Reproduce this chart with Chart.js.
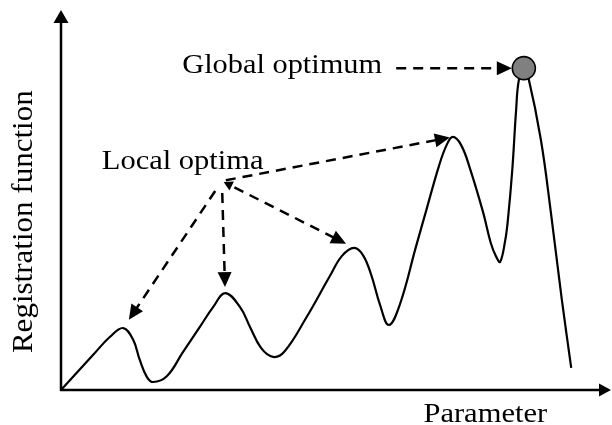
<!DOCTYPE html>
<html>
<head>
<meta charset="utf-8">
<script src="https://cdn.jsdelivr.net/npm/chart.js@4"></script>
<style>
  html, body { margin: 0; padding: 0; background: #fff; }
  #wrap { width: 612px; height: 425px; }
</style>
</head>
<body>
<div id="wrap"><canvas id="chart" width="612" height="425"></canvas></div>
<script>
(function () {
  "use strict";

  // curve: parameter (x) and registration value (y)
  var paramValues = [0, 5.8, 8.9, 11.3, 13.1, 14.3, 15.6, 16.7, 19.2, 22.1,
    25.2, 27.6, 29.8, 32.5, 34.3, 36.3, 38.5, 40.6, 44.5, 48.8,
    51.0, 53.2, 54.8, 56.3, 57.9, 59.5, 61.5, 64.4, 66.2, 68.6,
    70.0, 71.1, 72.6, 74.2, 76.6, 78.0, 79.0, 79.7, 80.6, 81.1,
    81.9, 82.6, 83.1, 84.0, 84.8, 87.1, 88.9, 90.9, 92.6];
  var registrationValues = [0, 9.2, 14.0, 16.3, 13.2, 7.9, 3.4, 2.1, 3.6, 9.9,
    16.6, 21.8, 25.5, 21.8, 16.6, 11.1, 8.7, 10.2, 19.0, 30.0,
    35.3, 37.4, 35.5, 30.3, 22.4, 17.1, 22.5, 37.6, 46.8, 59.0,
    64.5, 66.6, 64.5, 58.4, 46.8, 38.7, 35.0, 33.7, 39.2, 44.7,
    57.9, 73.7, 81.6, 84.7, 82.4, 65.8, 46.8, 23.7, 5.8];

  var localPeaks = [3, 12, 21, 31]; // indices of the local optima
  var globalPeak = 43;

  var xTitle = "Parameter";
  var yTitle = "Registration function";
  var globalText = "Global optimum";
  var localText = "Local optima";

  var SERIF = '"Liberation Serif", "Times New Roman", serif';

  var curve = paramValues.map(function (x, i) {
    return { x: x, y: registrationValues[i] };
  });

  function arrowHead(ctx, tipX, tipY, fromX, fromY, len, half) {
    var a = Math.atan2(tipY - fromY, tipX - fromX);
    ctx.save();
    ctx.translate(tipX, tipY);
    ctx.rotate(a);
    ctx.beginPath();
    ctx.moveTo(0, 0);
    ctx.lineTo(-len, -half);
    ctx.lineTo(-len, half);
    ctx.closePath();
    ctx.fill();
    ctx.restore();
  }

  // dashed shaft from (x1,y1) to a filled head at (x2,y2)
  function dashedArrow(ctx, x1, y1, x2, y2) {
    var dx = x2 - x1, dy = y2 - y1, d = Math.hypot(dx, dy);
    var ux = dx / d, uy = dy / d;
    ctx.save();
    ctx.setLineDash([10, 7]);
    ctx.lineWidth = 2.5;
    ctx.beginPath();
    ctx.moveTo(x1, y1);
    ctx.lineTo(x2 - ux * 13, y2 - uy * 13);
    ctx.stroke();
    ctx.restore();
    arrowHead(ctx, x2, y2, x1, y1, 15, 7);
  }

  function stretchedText(ctx, text, x, y, size, k, angle) {
    ctx.save();
    ctx.font = size + "px " + SERIF;
    ctx.translate(x, y);
    if (angle) ctx.rotate(angle);
    ctx.scale(k, 1);
    ctx.fillText(text, 0, 0);
    ctx.restore();
  }

  var axesPlugin = {
    id: "arrowAxes",
    beforeDatasetsDraw: function (chart) {
      var ctx = chart.ctx, area = chart.chartArea;
      var xs = chart.scales.x, ys = chart.scales.y;
      var x0 = xs.getPixelForValue(0), y0 = ys.getPixelForValue(0);
      ctx.save();
      ctx.strokeStyle = "#000";
      ctx.fillStyle = "#000";
      ctx.lineWidth = 2.5;
      ctx.beginPath();
      ctx.moveTo(x0, y0 + 1);
      ctx.lineTo(x0, area.top + 12);
      ctx.moveTo(x0 - 1, y0);
      ctx.lineTo(area.right - 11, y0);
      ctx.stroke();
      arrowHead(ctx, x0, area.top, x0, y0, 13, 7.5);
      arrowHead(ctx, area.right - 1, y0, x0, y0, 12, 6.5);

      // axis titles
      ctx.textAlign = "center";
      ctx.textBaseline = "alphabetic";
      stretchedText(ctx, xTitle, xs.getPixelForValue(77), area.bottom + 32, 27, 1.13);
      stretchedText(ctx, yTitle, area.left - 29, ys.getPixelForValue(44.3), 29, 1.07, -Math.PI / 2);
      ctx.restore();
    }
  };

  var notesPlugin = {
    id: "optimaNotes",
    afterDatasetsDraw: function (chart, args, opts) {
      var ctx = chart.ctx;
      var xs = chart.scales.x, ys = chart.scales.y;
      ctx.save();
      ctx.fillStyle = "#000";
      ctx.strokeStyle = "#000";
      ctx.textAlign = "left";
      ctx.textBaseline = "alphabetic";

      // local optima label and its four arrows
      stretchedText(ctx, localText, xs.getPixelForValue(opts.localLabel.x),
        ys.getPixelForValue(opts.localLabel.y), 27, 1.13);
      var ox = xs.getPixelForValue(opts.localOrigin.x);
      var oy = ys.getPixelForValue(opts.localOrigin.y);
      localPeaks.forEach(function (idx, n) {
        var px = xs.getPixelForValue(paramValues[idx]);
        var py = ys.getPixelForValue(registrationValues[idx]);
        var dx = px - ox, dy = py - oy, d = Math.hypot(dx, dy);
        var ux = dx / d, uy = dy / d;
        var s = opts.startGaps[n], g = opts.tipGaps[n];
        dashedArrow(ctx, ox + ux * s, oy + uy * s, px - ux * g, py - uy * g);
        if (n === 2) arrowHead(ctx, ox + ux * 2, oy + uy * 2, px, py, 9, 5);
      });

      // global optimum label and arrow
      ctx.font = "27px " + SERIF;
      var gx = xs.getPixelForValue(opts.globalLabel.x);
      var gy = ys.getPixelForValue(opts.globalLabel.y);
      stretchedText(ctx, globalText, gx, gy, 27, 1.125);
      var textEnd = gx + ctx.measureText(globalText).width * 1.125;
      var cx = xs.getPixelForValue(paramValues[globalPeak]);
      var cy = ys.getPixelForValue(registrationValues[globalPeak]);
      dashedArrow(ctx, textEnd + 14, cy, cx - 12, cy);
      ctx.restore();
    }
  };

  new Chart(document.getElementById("chart"), {
    type: "line",
    data: {
      datasets: [
        {
          label: yTitle,
          data: curve,
          borderColor: "#000",
          borderWidth: 2.2,
          pointRadius: 0,
          tension: 0.4,
          fill: false,
          clip: false,
          order: 1
        },
        {
          type: "scatter",
          label: globalText,
          data: [{ x: paramValues[globalPeak], y: registrationValues[globalPeak] }],
          pointRadius: 11.5,
          pointBackgroundColor: "#808080",
          pointBorderColor: "#000",
          pointBorderWidth: 1.6,
          clip: false,
          order: 0
        }
      ]
    },
    options: {
      responsive: false,
      devicePixelRatio: 1,
      animation: false,
      layout: { autoPadding: false, padding: { left: 61, top: 10, right: 0, bottom: 35 } },
      plugins: {
        legend: { display: false },
        tooltip: { enabled: false },
        optimaNotes: {
          localLabel: { x: 7.4, y: 58.2 },
          localOrigin: { x: 29.2, y: 55.0 },
          globalLabel: { x: 22.0, y: 83.4 },
          startGaps: [12, 12, 14, 4],
          tipGaps: [10, 6, 9, 3]
        }
      },
      scales: {
        x: { type: "linear", min: 0, max: 100, display: false },
        y: { min: 0, max: 100, display: false }
      }
    },
    plugins: [axesPlugin, notesPlugin]
  });
})();
</script>
</body>
</html>
